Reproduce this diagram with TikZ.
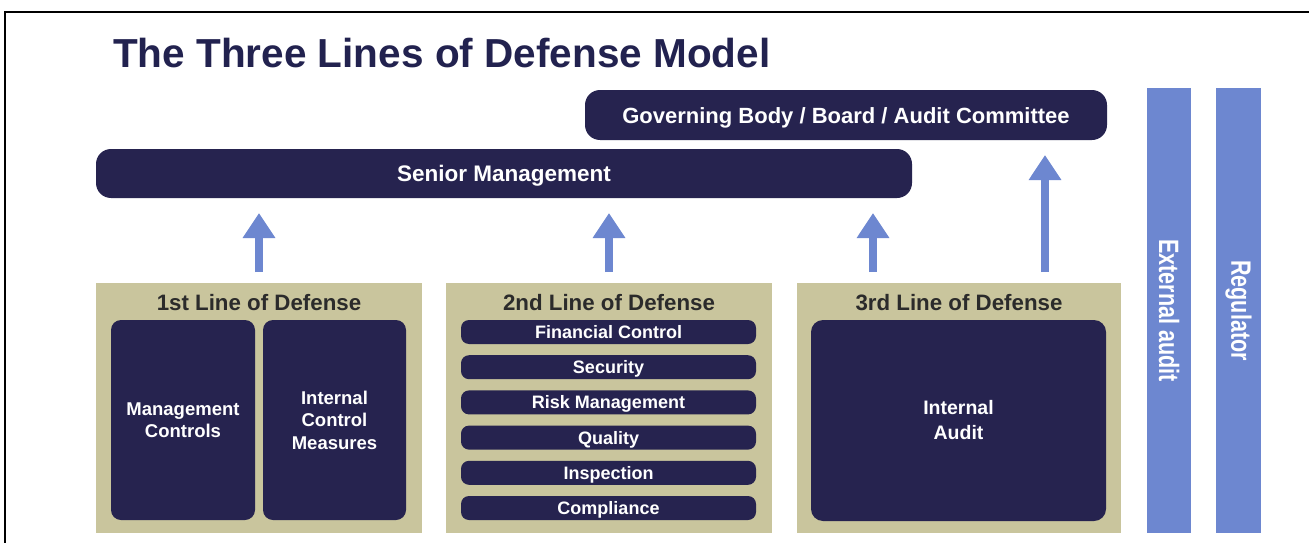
\documentclass[tikz,border=0pt]{standalone}
\usepackage{fontspec}
\setmainfont{Liberation Sans}
\newfontfamily\condfont{Liberation Sans}[FakeStretch=0.77]
\usetikzlibrary{arrows.meta}
\definecolor{navy}{HTML}{26234F}
\definecolor{khaki}{HTML}{C9C59D}
\definecolor{lblue}{HTML}{6D87D0}
\definecolor{titlec}{HTML}{22224F}
\definecolor{headc}{HTML}{2B2B2B}
\tikzset{
  darkbox/.style={rectangle, fill=navy, text=white, inner sep=0pt, outer sep=0pt, align=center},
  linebox/.style={rectangle, fill=khaki, inner sep=0pt, outer sep=0pt},
  barbox/.style={darkbox, rounded corners=8pt, minimum width=295pt, minimum height=24pt,
     font=\bfseries\fontsize{18}{20}\selectfont, text height=13pt, text depth=0pt},
  headtext/.style={inner sep=0pt, text=headc, font=\bfseries\fontsize{22.3}{26}\selectfont, anchor=base},
  sidebar/.style={rectangle, fill=lblue, text=white, inner sep=0pt, minimum width=44pt, minimum height=445pt},
  sidetext/.style={inner sep=0pt, text=white, rotate=-90, font=\condfont\bfseries\fontsize{28}{30}\selectfont},
  uparrow/.style={draw=lblue, line width=8pt, -{Triangle[width=31pt,length=25pt]}},
}
\begin{document}
\begin{tikzpicture}[x=1pt,y=-1pt]
\useasboundingbox (0,0) rectangle (1309,543);
\fill[white] (0,0) rectangle (1309,543);
\draw[line width=2.5pt] (5,543) -- (5,12) -- (1309,12);

\node[anchor=base west, inner sep=0pt, text=titlec, font=\bfseries\fontsize{40.5}{44}\selectfont] (title) at (113,67) {The Three Lines of Defense Model};

\node[darkbox, rounded corners=15pt, minimum width=522pt, minimum height=50pt,
  font=\bfseries\fontsize{22}{26}\selectfont, text height=16pt, text depth=0pt] (gov) at (846,115) {Governing Body / Board / Audit Committee};
\node[darkbox, rounded corners=15pt, minimum width=816pt, minimum height=49pt,
  font=\bfseries\fontsize{22.5}{26}\selectfont, text height=16pt, text depth=0pt] (senior) at (504,173.5) {Senior Management};

% line boxes
\node[linebox, minimum width=326pt, minimum height=250pt] (l1) at (259,408) {};
\node[linebox, minimum width=326pt, minimum height=250pt] (l2) at (609,408) {};
\node[linebox, minimum width=324pt, minimum height=250pt] (l3) at (959,408) {};

\node[headtext] (h1) at (259,310) {1st Line of Defense};
\node[headtext] (h2) at (609,310) {2nd Line of Defense};
\node[headtext] (h3) at (959,310) {3rd Line of Defense};

% 1st line content
\node[darkbox, rounded corners=10pt, minimum width=144pt, minimum height=200pt,
  font=\bfseries\fontsize{18.5}{22}\selectfont] (mc) at (183,420) {Management\\Controls};
\node[darkbox, rounded corners=10pt, minimum width=143pt, minimum height=200pt,
  font=\bfseries\fontsize{18.5}{22.5}\selectfont] (icm) at (334.5,420) {Internal\\Control\\Measures};

% 2nd line content
\node[barbox] (b1) at (608.5,332) {Financial Control};
\node[barbox] (b2) at (608.5,367.2) {Security};
\node[barbox] (b3) at (608.5,402.4) {Risk Management};
\node[barbox] (b4) at (608.5,437.6) {Quality};
\node[barbox] (b5) at (608.5,472.8) {Inspection};
\node[barbox] (b6) at (608.5,508) {Compliance};

% 3rd line content
\node[darkbox, rounded corners=12pt, minimum width=295pt, minimum height=201pt,
  font=\bfseries\fontsize{19.5}{25}\selectfont] (ia) at (958.5,420.5) {Internal\\Audit};

% side bars
\node[sidebar] (ext) at (1169,310.5) {};
\node[sidebar, minimum width=45pt] (reg) at (1238.5,310.5) {};
\node[sidetext] (extt) at (ext.center) {External audit};
\node[sidetext] (regt) at (reg.center) {Regulator};

% arrows
\coordinate (a3) at (873,283);
\coordinate (a4) at (1045,283);
\draw[uparrow, shorten <=11pt, shorten >=15pt] (l1.north) -- (l1.north |- senior.south);
\draw[uparrow, shorten <=11pt, shorten >=15pt] (l2.north) -- (l2.north |- senior.south);
\draw[uparrow, shorten <=11pt, shorten >=15pt] (a3) -- (a3 |- senior.south);
\draw[uparrow, shorten <=11pt, shorten >=15pt] (a4) -- (a4 |- gov.south);
\end{tikzpicture}
\end{document}
